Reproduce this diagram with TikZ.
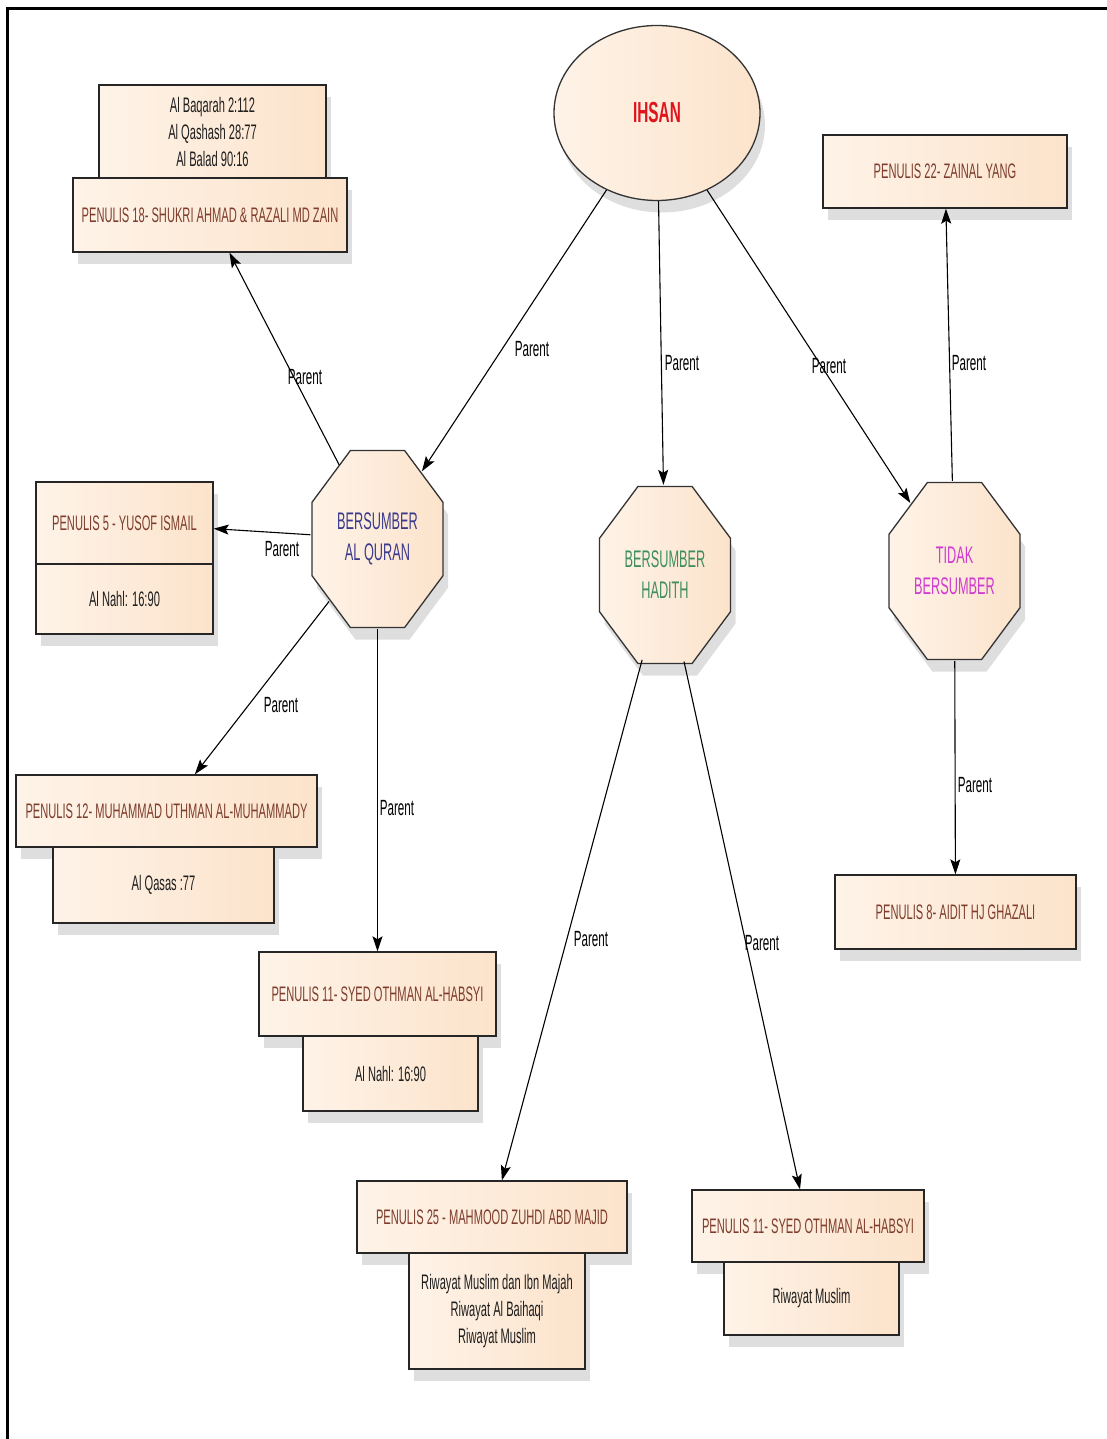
\documentclass[tikz,border=0pt]{standalone}
\usepackage{fontspec}
\setmainfont{Liberation Sans}[FakeStretch=0.53]
\usetikzlibrary{shapes.geometric,arrows.meta,shadows}
\definecolor{peachL}{HTML}{FEF3E8}
\definecolor{peachR}{HTML}{FCE3CB}
\definecolor{brn}{HTML}{7E3D2C}
\definecolor{reftxt}{HTML}{1E1E1E}
\definecolor{ihsanred}{HTML}{E0141E}
\definecolor{quranblue}{HTML}{3A3A8C}
\definecolor{hadgreen}{HTML}{3E8E5E}
\definecolor{tidakmag}{HTML}{D03AD0}
\tikzset{
  shadowed/.style={drop shadow={shadow xshift=5pt, shadow yshift=-12pt, fill=black, opacity=0.13}},
  boxbase/.style={draw=black!85, line width=1.4pt, left color=peachL, right color=peachR,
    inner sep=0pt, align=center, shadowed, font=\fontsize{21}{27}\selectfont},
  penbox/.style={boxbase, text=brn},
  refbox/.style={boxbase, text=reftxt},
  octo/.style={draw=black!80, line width=1.3pt, left color=peachL, right color=peachR, shadowed},
  octlbl/.style={ellipse, minimum width=134pt, minimum height=180pt, inner sep=0pt,
    align=center, font=\fontsize{24}{31}\selectfont},
  conn/.style={-{Stealth[length=15pt,width=10pt,inset=3pt]}, line width=1.1pt, black},
  lbl/.style={font=\fontsize{22}{26}\selectfont, text=black, inner sep=0pt}
}
\newcommand\octagonat[2]{\path[octo] (#1-65.5,#2-36.7) -- (#1-27.1,#2-88.5) -- (#1+27.1,#2-88.5) -- (#1+65.5,#2-36.7) -- (#1+65.5,#2+36.7) -- (#1+27.1,#2+88.5) -- (#1-27.1,#2+88.5) -- (#1-65.5,#2+36.7) -- cycle;}
\begin{document}
\begin{tikzpicture}[x=1pt,y=-1pt]
\useasboundingbox (0,0) rectangle (1107,1439);
\fill[white] (0,0) rectangle (1107,1439);
% frame
\draw[line width=3pt] (7,1439) -- (7,9) -- (1107,9);

% central ellipse
\node[ellipse, draw=black!80, line width=1.3pt, left color=peachL, right color=peachR, shadowed,
  minimum width=206pt, minimum height=175pt, inner sep=0pt,
  font=\fontsize{29}{34}\selectfont\bfseries, text=ihsanred] (ihsan) at (657,113) {IHSAN};

% octagons
\octagonat{377.5}{539}
\octagonat{665}{575}
\octagonat{954.5}{571}
\node[octlbl, text=quranblue] (quran) at (377.5,539) {BERSUMBER\\AL QURAN};
\node[octlbl, text=hadgreen] (hadith) at (665,575) {BERSUMBER\\HADITH};
\node[octlbl, text=tidakmag] (tidak) at (954.5,571) {TIDAK\\BERSUMBER};

% boxes
\node[refbox, minimum width=227pt, minimum height=93pt] (refa) at (212.5,131.5) {Al Baqarah 2:112\\Al Qashash 28:77\\Al Balad 90:16};
\node[penbox, minimum width=274pt, minimum height=74pt] (p18) at (210,215) {PENULIS 18- SHUKRI AHMAD \& RAZALI MD ZAIN};

\node[penbox, minimum width=244pt, minimum height=73pt] (p22) at (945,171.5) {PENULIS 22- ZAINAL YANG};

\node[penbox, minimum width=177pt, minimum height=82pt] (p5) at (124.5,523) {PENULIS 5 - YUSOF ISMAIL};
\node[refbox, minimum width=177pt, minimum height=70pt] (nahla) at (124.5,599) {Al Nahl: 16:90};

\node[penbox, minimum width=301pt, minimum height=72pt] (p12) at (166.5,811) {PENULIS 12- MUHAMMAD UTHMAN AL-MUHAMMADY};
\node[refbox, minimum width=221pt, minimum height=76pt] (qasas) at (163.5,885) {Al Qasas :77};

\node[penbox, minimum width=237pt, minimum height=84pt] (p11a) at (377.5,994) {PENULIS 11- SYED OTHMAN AL-HABSYI};
\node[refbox, minimum width=175pt, minimum height=75pt] (nahlb) at (390.5,1073.5) {Al Nahl: 16:90};

\node[penbox, minimum width=241pt, minimum height=74pt] (p8) at (955.5,912) {PENULIS 8- AIDIT HJ GHAZALI};

\node[penbox, minimum width=270pt, minimum height=72pt] (p25) at (492,1217) {PENULIS 25 - MAHMOOD ZUHDI ABD MAJID};
\node[refbox, minimum width=176pt, minimum height=116pt] (riwa) at (497,1311) {Riwayat Muslim dan Ibn Majah\\Riwayat Al Baihaqi\\Riwayat Muslim};

\node[penbox, minimum width=232pt, minimum height=72pt] (p11b) at (808,1226) {PENULIS 11- SYED OTHMAN AL-HABSYI};
\node[refbox, minimum width=175pt, minimum height=73pt] (riwb) at (811.5,1298.5) {Riwayat Muslim};

% connectors
\draw[conn] (ihsan) -- (quran);
\draw[conn] (ihsan) -- (hadith);
\draw[conn] (ihsan) -- (tidak);
\draw[conn] (tidak) -- (p22);
\draw[conn] (tidak) -- (p8);
\draw[conn] (quran) -- (p18);
\draw[conn] (quran) -- (p5);
\draw[conn] (quran) -- (p12);
\draw[conn] (quran) -- (p11a);
\draw[conn] (hadith) -- (p25);
\draw[conn] (hadith) -- (p11b);

% labels
\node[lbl] (l1) at (532,349) {Parent};
\node[lbl] (l2) at (682,363) {Parent};
\node[lbl] (l3) at (829,366) {Parent};
\node[lbl] (l4) at (969,363) {Parent};
\node[lbl] (l5) at (975,785) {Parent};
\node[lbl] (l6) at (305,377) {Parent};
\node[lbl] (l7) at (282,549) {Parent};
\node[lbl] (l8) at (281,705) {Parent};
\node[lbl] (l9) at (397,808) {Parent};
\node[lbl] (l10) at (591,939) {Parent};
\node[lbl] (l11) at (762,943) {Parent};
\end{tikzpicture}
\end{document}
